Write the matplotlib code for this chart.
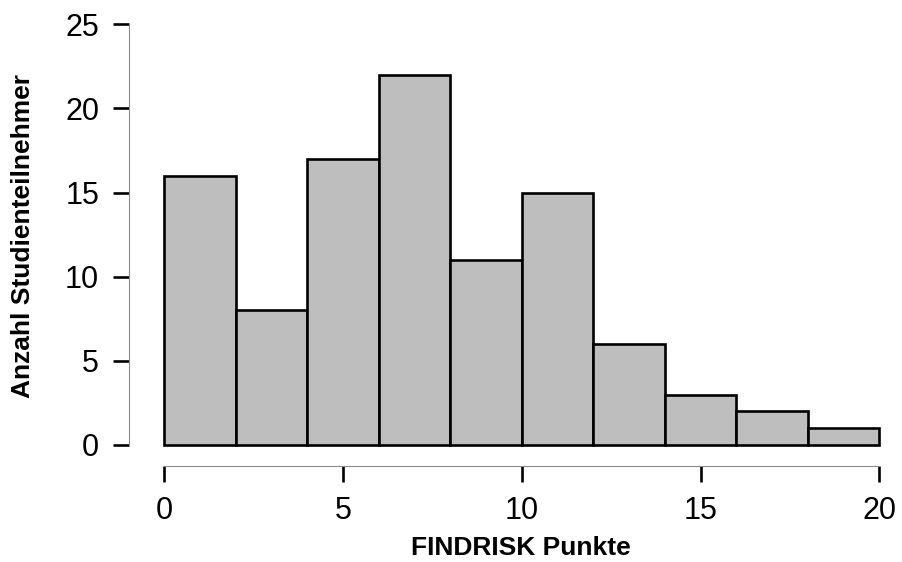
import matplotlib
matplotlib.use("Agg")
import matplotlib.pyplot as plt

plt.rcParams["font.family"] = ["Liberation Sans", "DejaVu Sans"]

# FINDRISK score histogram, bins of width 2
bin_left = [0, 2, 4, 6, 8, 10, 12, 14, 16, 18]
bin_width = 2
counts = [16, 8, 17, 22, 11, 15, 6, 3, 2, 1]
x_ticks = [0, 5, 10, 15, 20]
y_ticks = [0, 5, 10, 15, 20, 25]

W, H = 902, 562
fig = plt.figure(figsize=(W / 100, H / 100), dpi=100)

# axes box in pixels: left spine at x=129, bottom spine at y=466
left_px, right_px, top_px, bottom_px = 129, 895, 15, 466
ax = fig.add_axes([left_px / W, 1 - bottom_px / H,
                   (right_px - left_px) / W, (bottom_px - top_px) / H])

ax.bar(bin_left, counts, width=bin_width, align="edge",
       color="#bebebe", edgecolor="black", linewidth=1.9)

ax.set_xlim(-0.987, 20.44)
ax.set_ylim(-1.248, 25.55)

for side in ("top", "right"):
    ax.spines[side].set_visible(False)
for side in ("left", "bottom"):
    ax.spines[side].set_color("#8a8a8a")
    ax.spines[side].set_linewidth(0.8)
ax.spines["left"].set_bounds(0, 25)
ax.spines["bottom"].set_bounds(0, 20)

ax.set_xticks(x_ticks)
ax.set_yticks(y_ticks)
ax.tick_params(axis="both", length=11.5, width=1.9, color="black",
               labelsize=22, pad=10)

fig.text(521 / W, 1 - 548 / H, "FINDRISK Punkte", ha="center", va="center",
         fontsize=19, fontweight="bold")
fig.text(23 / W, 1 - 236 / H, "Anzahl Studienteilnehmer", ha="center",
         va="center", rotation=90, fontsize=19, fontweight="bold")

fig.savefig("out.png", dpi=100)
